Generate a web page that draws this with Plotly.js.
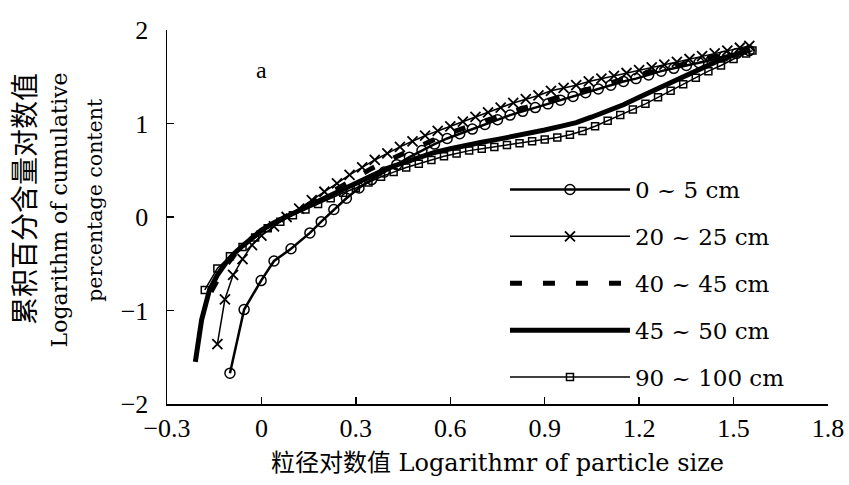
<!DOCTYPE html>
<html>
<head>
<meta charset="utf-8">
<script src="https://cdn.plot.ly/plotly-3.0.1.min.js"></script>
<style>html,body{margin:0;padding:0;background:#fff;}#chart{width:849px;height:485px;}</style>
</head>
<body>
<div id="chart"></div>
<script>
// Series names
const seriesNames = ["0 ~ 5 cm", "20 ~ 25 cm", "40 ~ 45 cm", "45 ~ 50 cm", "90 ~ 100 cm"];

// 0 ~ 5 cm
const x0_5 = [-0.10, -0.055, -0.001, 0.04, 0.094, 0.154, 0.19, 0.23, 0.27, 0.31, 0.35, 0.39, 0.43, 0.47, 0.51, 0.55, 0.59, 0.63, 0.67, 0.71, 0.75, 0.79, 0.83, 0.87, 0.91, 0.95, 0.99, 1.03, 1.07, 1.11, 1.15, 1.19, 1.23, 1.27, 1.31, 1.35, 1.39, 1.43, 1.47, 1.51, 1.55];
const y0_5 = [-1.67, -0.99, -0.68, -0.47, -0.34, -0.17, -0.05, 0.08, 0.20, 0.31, 0.40, 0.48, 0.56, 0.64, 0.71, 0.78, 0.84, 0.89, 0.94, 0.99, 1.04, 1.09, 1.13, 1.17, 1.21, 1.25, 1.29, 1.33, 1.37, 1.41, 1.45, 1.48, 1.52, 1.56, 1.59, 1.62, 1.65, 1.68, 1.72, 1.75, 1.78];

// 20 ~ 25 cm
const x20_25 = [-0.14, -0.116, -0.09, -0.06, -0.03, 0.00, 0.04, 0.08, 0.12, 0.16, 0.20, 0.24, 0.28, 0.32, 0.36, 0.40, 0.44, 0.48, 0.52, 0.56, 0.60, 0.64, 0.68, 0.72, 0.76, 0.80, 0.84, 0.88, 0.92, 0.96, 1.00, 1.04, 1.08, 1.12, 1.16, 1.20, 1.24, 1.28, 1.32, 1.36, 1.40, 1.44, 1.48, 1.52, 1.55];
const y20_25 = [-1.36, -0.88, -0.62, -0.45, -0.30, -0.20, -0.10, 0.00, 0.09, 0.18, 0.27, 0.36, 0.45, 0.53, 0.61, 0.68, 0.75, 0.81, 0.87, 0.92, 0.97, 1.02, 1.07, 1.12, 1.17, 1.22, 1.26, 1.30, 1.35, 1.38, 1.41, 1.45, 1.48, 1.51, 1.54, 1.57, 1.60, 1.63, 1.66, 1.69, 1.72, 1.75, 1.78, 1.81, 1.83];

// 40 ~ 45 cm
const x40_45 = [-0.16, -0.12, -0.08, -0.04, 0.00, 0.05, 0.10, 0.15, 0.20, 0.25, 0.30, 0.35, 0.40, 0.45, 0.50, 0.55, 0.60, 0.65, 0.70, 0.75, 0.80, 0.85, 0.90, 0.95, 1.00, 1.05, 1.10, 1.15, 1.20, 1.25, 1.30, 1.35, 1.40, 1.45, 1.50, 1.55];
const y40_45 = [-0.80, -0.55, -0.38, -0.25, -0.15, -0.05, 0.05, 0.13, 0.22, 0.32, 0.42, 0.52, 0.60, 0.68, 0.76, 0.83, 0.90, 0.96, 1.02, 1.08, 1.13, 1.18, 1.24, 1.29, 1.33, 1.38, 1.43, 1.47, 1.52, 1.56, 1.60, 1.64, 1.68, 1.72, 1.76, 1.80];

// 45 ~ 50 cm
const x45_50 = [-0.21, -0.19, -0.165, -0.14, -0.115, -0.09, -0.06, -0.03, 0.00, 0.04, 0.075, 0.10, 0.15, 0.20, 0.25, 0.30, 0.35, 0.40, 0.45, 0.50, 0.55, 0.60, 0.65, 0.70, 0.75, 0.80, 0.85, 0.90, 0.95, 1.00, 1.05, 1.10, 1.15, 1.20, 1.25, 1.30, 1.35, 1.40, 1.45, 1.50, 1.55];
const y45_50 = [-1.55, -1.10, -0.78, -0.62, -0.50, -0.40, -0.31, -0.22, -0.14, -0.06, 0.00, 0.04, 0.12, 0.20, 0.28, 0.36, 0.44, 0.52, 0.58, 0.64, 0.69, 0.73, 0.77, 0.80, 0.83, 0.86, 0.89, 0.93, 0.97, 1.01, 1.07, 1.13, 1.20, 1.28, 1.36, 1.44, 1.52, 1.60, 1.67, 1.73, 1.79];

// 90 ~ 100 cm
const x90_100 = [-0.18, -0.14, -0.10, -0.06, -0.02, 0.02, 0.06, 0.10, 0.14, 0.18, 0.22, 0.26, 0.30, 0.34, 0.38, 0.42, 0.46, 0.50, 0.54, 0.58, 0.62, 0.66, 0.70, 0.74, 0.78, 0.82, 0.86, 0.90, 0.94, 0.98, 1.02, 1.06, 1.10, 1.14, 1.18, 1.22, 1.26, 1.30, 1.34, 1.38, 1.42, 1.46, 1.50, 1.54, 1.56];
const y90_100 = [-0.78, -0.55, -0.42, -0.32, -0.22, -0.12, -0.05, 0.02, 0.08, 0.14, 0.20, 0.26, 0.31, 0.37, 0.43, 0.48, 0.53, 0.57, 0.61, 0.65, 0.68, 0.71, 0.73, 0.75, 0.77, 0.79, 0.81, 0.83, 0.85, 0.88, 0.92, 0.97, 1.03, 1.09, 1.15, 1.21, 1.28, 1.35, 1.42, 1.49, 1.56, 1.62, 1.69, 1.75, 1.78];

// Axis ticks
const xTickVals = [-0.3, 0, 0.3, 0.6, 0.9, 1.2, 1.5, 1.8];
const xTickText = ["\u22120.3", "0", "0.3", "0.6", "0.9", "1.2", "1.5", "1.8"];
const yTickVals = [-2, -1, 0, 1, 2];
const yTickText = ["\u22122", "\u22121", "0", "1", "2"];

const serif = "Liberation Serif, Times New Roman, serif";
const wide = "DejaVu Serif, Noto Sans CJK SC, serif";

const traces = [
  {x: x0_5, y: y0_5, name: seriesNames[0], legendgroup: "a", mode: "lines+markers",
   line: {color: "#000", width: 2.5},
   marker: {symbol: "circle-open", size: 10, color: "#000", line: {width: 1.5, color: "#000"}}},
  {x: x20_25, y: y20_25, name: seriesNames[1], legendgroup: "b", mode: "lines+markers",
   line: {color: "#000", width: 1.5},
   marker: {symbol: "x-thin-open", size: 10, color: "#000", line: {width: 1.8, color: "#000"}}},
  {x: x40_45, y: y40_45, name: seriesNames[2], legendgroup: "c", mode: "lines",
   line: {color: "#000", width: 5, dash: "12px,21px"}},
  {x: x45_50, y: y45_50, name: seriesNames[3], legendgroup: "d", mode: "lines",
   line: {color: "#000", width: 5}},
  {x: x90_100, y: y90_100, name: seriesNames[4], legendgroup: "e", mode: "lines+markers",
   line: {color: "#000", width: 1.5},
   marker: {symbol: "square-open", size: 7, color: "#000", line: {width: 1.5, color: "#000"}}}
];

const layout = {
  width: 849, height: 485,
  margin: {l: 167, r: 21, t: 30, b: 81},
  paper_bgcolor: "#fff", plot_bgcolor: "#fff",
  font: {family: serif, size: 20, color: "#000"},
  showlegend: true,
  legend: {x: 0.5113, y: 0.631, xanchor: "left", yanchor: "top",
           font: {family: wide, size: 23, color: "#000"},
           tracegroupgap: 14, itemwidth: 120, bgcolor: "rgba(0,0,0,0)"},
  xaxis: {range: [-0.3, 1.8], tickvals: xTickVals, ticktext: xTickText,
          showline: true, linecolor: "#000", linewidth: 1.5, mirror: false,
          ticks: "inside", ticklen: 7, tickwidth: 1.5, tickcolor: "#000",
          showgrid: false, zeroline: false,
          tickfont: {family: serif, size: 26, color: "#000"},
          title: {text: "粒径对数值 Logarithmr of particle size", standoff: 12,
                  font: {family: wide, size: 24, color: "#000"}}},
  yaxis: {range: [-2, 2], tickvals: yTickVals, ticktext: yTickText,
          showline: true, linecolor: "#000", linewidth: 1.5, mirror: false,
          ticks: "inside", ticklen: 7, tickwidth: 1.5, tickcolor: "#000",
          ticklabelstandoff: 12,
          showgrid: false, zeroline: false,
          tickfont: {family: serif, size: 26, color: "#000"}},
  annotations: [
    {text: "a", xref: "x", yref: "y", x: 0.0, y: 1.57, showarrow: false,
     font: {family: serif, size: 24, color: "#000"}},
    {text: "累积百分含量对数值", xref: "paper", yref: "paper", x: -0.215, y: 0.548,
     xanchor: "center", yanchor: "middle", textangle: -90, showarrow: false,
     font: {family: wide, size: 28, color: "#000"}},
    {text: "Logarithm of cumulative", xref: "paper", yref: "paper", x: -0.162, y: 0.52,
     xanchor: "center", yanchor: "middle", textangle: -90, showarrow: false,
     font: {family: wide, size: 22, color: "#000"}},
    {text: "percentage content", xref: "paper", yref: "paper", x: -0.108, y: 0.545,
     xanchor: "center", yanchor: "middle", textangle: -90, showarrow: false,
     font: {family: wide, size: 20.5, color: "#000"}}
  ]
};

Plotly.newPlot("chart", traces, layout, {displayModeBar: false, staticPlot: true});
</script>
</body>
</html>
